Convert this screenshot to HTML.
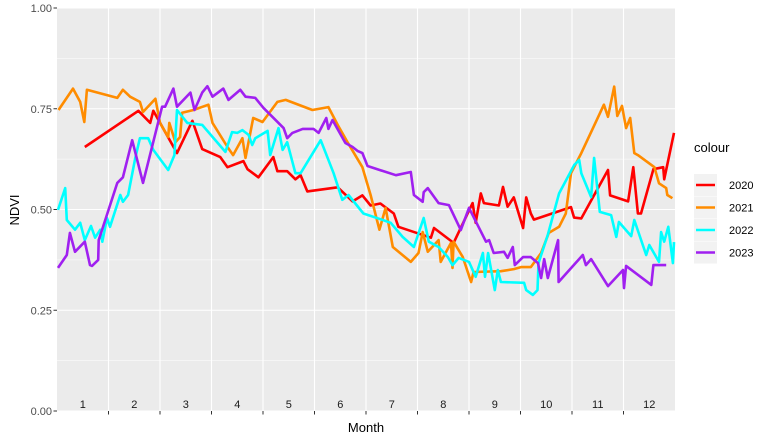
<!DOCTYPE html>
<html><head><meta charset="utf-8"><style>
body{margin:0;background:#fff;font-family:"Liberation Sans",Arial,sans-serif}
svg text{font-family:"Liberation Sans",Arial,sans-serif}
</style></head><body>
<svg id="chart" width="773" height="442" xmlns="http://www.w3.org/2000/svg">
<rect x="0" y="0" width="773" height="442" fill="#fff"/>
<rect x="57" y="8" width="618" height="403" fill="#EBEBEB"/>
<g id="grid"></g><g id="axes"></g><g id="series"></g><g id="legend"></g>
<text x="0" y="0" transform="translate(19,210) rotate(-90)" text-anchor="middle" font-size="13" fill="#000">NDVI</text>
<text x="366" y="432" text-anchor="middle" font-size="13" fill="#000">Month</text>
</svg>
<script>
const months=["1","2","3","4","5","6","7","8","9","10","11","12"];
const yTicks=[0,0.25,0.5,0.75,1.0];
const yTickLabels=["0.00","0.25","0.50","0.75","1.00"];
const seriesNames=["2020","2021","2022","2023"];
const seriesColors=["#FF0000","#FF8C00","#00FFFF","#A020F0"];
const t2020=[0.54,1.58,1.81,1.87,2.33,2.63,2.82,3.17,3.31,3.62,3.70,3.91,4.20,4.28,4.47,4.63,4.73,4.86,5.45,5.74,5.93,6.09,6.28,6.54,6.63,7.26,7.32,7.70,8.07,8.13,8.23,8.29,8.58,8.66,8.75,8.87,9.05,9.11,9.20,9.26,9.98,10.04,10.18,10.70,10.74,11.09,11.19,11.28,11.34,11.58,11.77,11.79,11.98];
const v2020=[.655,.745,.715,.745,.64,.72,.65,.63,.605,.62,.60,.58,.63,.595,.595,.575,.585,.545,.555,.52,.535,.51,.515,.49,.457,.43,.454,.417,.516,.467,.54,.516,.51,.556,.507,.53,.454,.53,.49,.475,.506,.48,.478,.598,.535,.52,.605,.49,.49,.60,.605,.575,.69];
const t2021=[.03,.31,.45,.53,.58,1.17,1.28,1.42,1.61,1.67,1.91,2.00,2.16,2.18,2.30,2.39,2.43,2.65,2.94,3.02,3.31,3.42,3.60,3.66,3.81,3.99,4.28,4.44,4.96,5.27,5.45,5.64,5.93,6.09,6.26,6.38,6.52,6.87,7.02,7.10,7.20,7.41,7.45,7.65,7.68,7.70,7.88,8.04,8.09,8.62,8.87,9.01,9.20,9.40,9.55,9.75,9.88,9.98,10.18,10.62,10.70,10.82,10.88,10.97,11.05,11.13,11.21,11.28,11.60,11.69,11.83,11.85,11.95];
const v2021=[.747,.80,.767,.717,.797,.777,.797,.78,.767,.742,.775,.715,.68,.715,.667,.68,.74,.747,.76,.715,.655,.635,.677,.628,.727,.717,.767,.772,.747,.754,.71,.667,.605,.536,.45,.504,.407,.37,.392,.444,.395,.424,.37,.417,.355,.42,.382,.32,.345,.347,.352,.357,.357,.392,.442,.457,.49,.59,.64,.76,.73,.805,.732,.757,.702,.727,.64,.635,.605,.565,.553,.536,.528];
const t2022=[.02,.16,.19,.35,.45,.54,.66,.74,.84,.88,.97,1.03,1.23,1.28,1.38,1.52,1.61,1.77,1.87,2.16,2.28,2.33,2.53,2.82,3.27,3.40,3.50,3.60,3.72,3.79,3.85,4.09,4.14,4.30,4.38,4.47,4.63,4.73,5.12,5.37,5.54,5.66,5.95,6.28,6.48,6.71,6.93,7.12,7.22,7.41,7.59,7.68,7.80,8.00,8.13,8.27,8.31,8.37,8.50,8.56,8.62,9.07,9.11,9.24,9.33,9.35,9.53,9.75,10.04,10.14,10.18,10.37,10.43,10.54,10.76,10.86,10.91,11.15,11.21,11.44,11.50,11.69,11.73,11.79,11.87,11.96,11.98];
const v2022=[.499,.553,.474,.45,.467,.424,.459,.43,.45,.42,.479,.457,.536,.519,.536,.628,.677,.677,.648,.598,.635,.747,.715,.71,.643,.692,.69,.697,.685,.66,.677,.695,.635,.702,.648,.667,.59,.59,.672,.59,.524,.536,.49,.476,.467,.432,.407,.479,.42,.407,.382,.362,.38,.37,.333,.392,.333,.392,.30,.35,.32,.318,.30,.288,.30,.367,.437,.54,.61,.623,.59,.531,.628,.494,.486,.432,.469,.434,.474,.387,.412,.37,.444,.42,.457,.367,.419];
const t2023=[.02,.19,.25,.35,.54,.64,.68,.80,.81,1.17,1.28,1.46,1.67,2.04,2.10,2.26,2.33,2.59,2.67,2.82,2.92,3.02,3.23,3.33,3.56,3.66,3.85,4.01,4.40,4.47,4.57,4.77,4.98,5.08,5.23,5.27,5.35,5.60,5.74,5.84,5.93,6.03,6.58,6.87,6.93,7.10,7.12,7.20,7.41,7.61,7.84,8.00,8.33,8.39,8.48,8.68,8.75,8.85,8.89,9.05,9.20,9.34,9.40,9.46,9.53,9.73,9.74,10.21,10.27,10.37,10.70,10.99,11.01,11.05,11.54,11.58,11.83];
const v2023=[.355,.387,.442,.395,.42,.362,.36,.375,.424,.566,.58,.672,.566,.755,.755,.80,.755,.79,.747,.79,.806,.78,.80,.772,.797,.78,.777,.752,.702,.677,.69,.70,.70,.69,.727,.70,.722,.665,.655,.645,.64,.608,.585,.593,.536,.519,.543,.553,.516,.511,.449,.504,.42,.424,.392,.395,.38,.407,.362,.382,.382,.367,.33,.377,.33,.424,.32,.387,.362,.377,.31,.35,.305,.36,.313,.362,.362];
const seriesT=[t2020,t2021,t2022,t2023];
const seriesV=[v2020,v2021,v2022,v2023];

const NS="http://www.w3.org/2000/svg";
const X0=57,X1=675,Y0=411,Y1=8;
function xs(t){return X0+t*(X1-X0)/12;}
function ys(v){return Y0-v*(Y0-Y1);}
function mk(tag,attrs,parent){const e=document.createElementNS(NS,tag);for(const k in attrs)e.setAttribute(k,attrs[k]);parent.appendChild(e);return e;}
const grid=document.getElementById('grid'),axes=document.getElementById('axes'),ser=document.getElementById('series'),leg=document.getElementById('legend');
// minor horizontal
for(let i=0;i<yTicks.length-1;i++){const m=(yTicks[i]+yTicks[i+1])/2;
 const l=mk('line',{x1:X0,x2:X1,y1:ys(m),y2:ys(m),stroke:'#fff','stroke-width':0.6},grid);
 
 }
yTicks.forEach((v,i)=>{
 const l=mk('line',{x1:X0,x2:X1,y1:ys(v),y2:ys(v),stroke:'#fff','stroke-width':1.1},grid);
 
 
 const tk=mk('line',{x1:X0-3.5,x2:X0,y1:ys(v),y2:ys(v),stroke:'#333','stroke-width':1},axes);
 
 
 const tx=mk('text',{x:X0-5,y:ys(v)+4,'text-anchor':'end','font-size':'11',fill:'#4D4D4D'},axes);
 tx.textContent=yTickLabels[i];
 
 
});
for(let k=1;k<12;k++){
 const l=mk('line',{x1:xs(k),x2:xs(k),y1:Y1,y2:Y0,stroke:'#fff','stroke-width':1.1},grid);
 
 
 const tk=mk('line',{x1:xs(k),x2:xs(k),y1:Y0,y2:Y0+3.5,stroke:'#333','stroke-width':1},axes);
 
 
}
months.forEach((m,i)=>{
 const tx=mk('text',{x:xs(i+0.5),y:Y0-3,'text-anchor':'middle','font-size':'11',fill:'#1a1a1a'},axes);
 tx.textContent=m;
 
 
});
seriesNames.forEach((n,s)=>{
 const pts=seriesT[s].map((t,i)=>xs(t).toFixed(1)+','+ys(seriesV[s][i]).toFixed(1)).join(' ');
 const p=mk('polyline',{points:pts,fill:'none',stroke:seriesColors[s],'stroke-width':2.6,'stroke-linejoin':'round'},ser);
 
 
});
const lt=mk('text',{x:694,y:152,'font-size':'13',fill:'#000'},leg);
lt.textContent='colour';


seriesNames.forEach((n,s)=>{
 const cy=185+s*22.5;
 const g=mk('g',{},leg);
 
 
 mk('rect',{x:694,y:cy-11,width:23,height:22,fill:'#F2F2F2'},g);
 mk('line',{x1:696,x2:715,y1:cy,y2:cy,stroke:seriesColors[s],'stroke-width':2.6},g);
 const t=mk('text',{x:729,y:cy+4,'font-size':'11',fill:'#000'},g);
 t.textContent=n;
});
</script>
</body></html>
